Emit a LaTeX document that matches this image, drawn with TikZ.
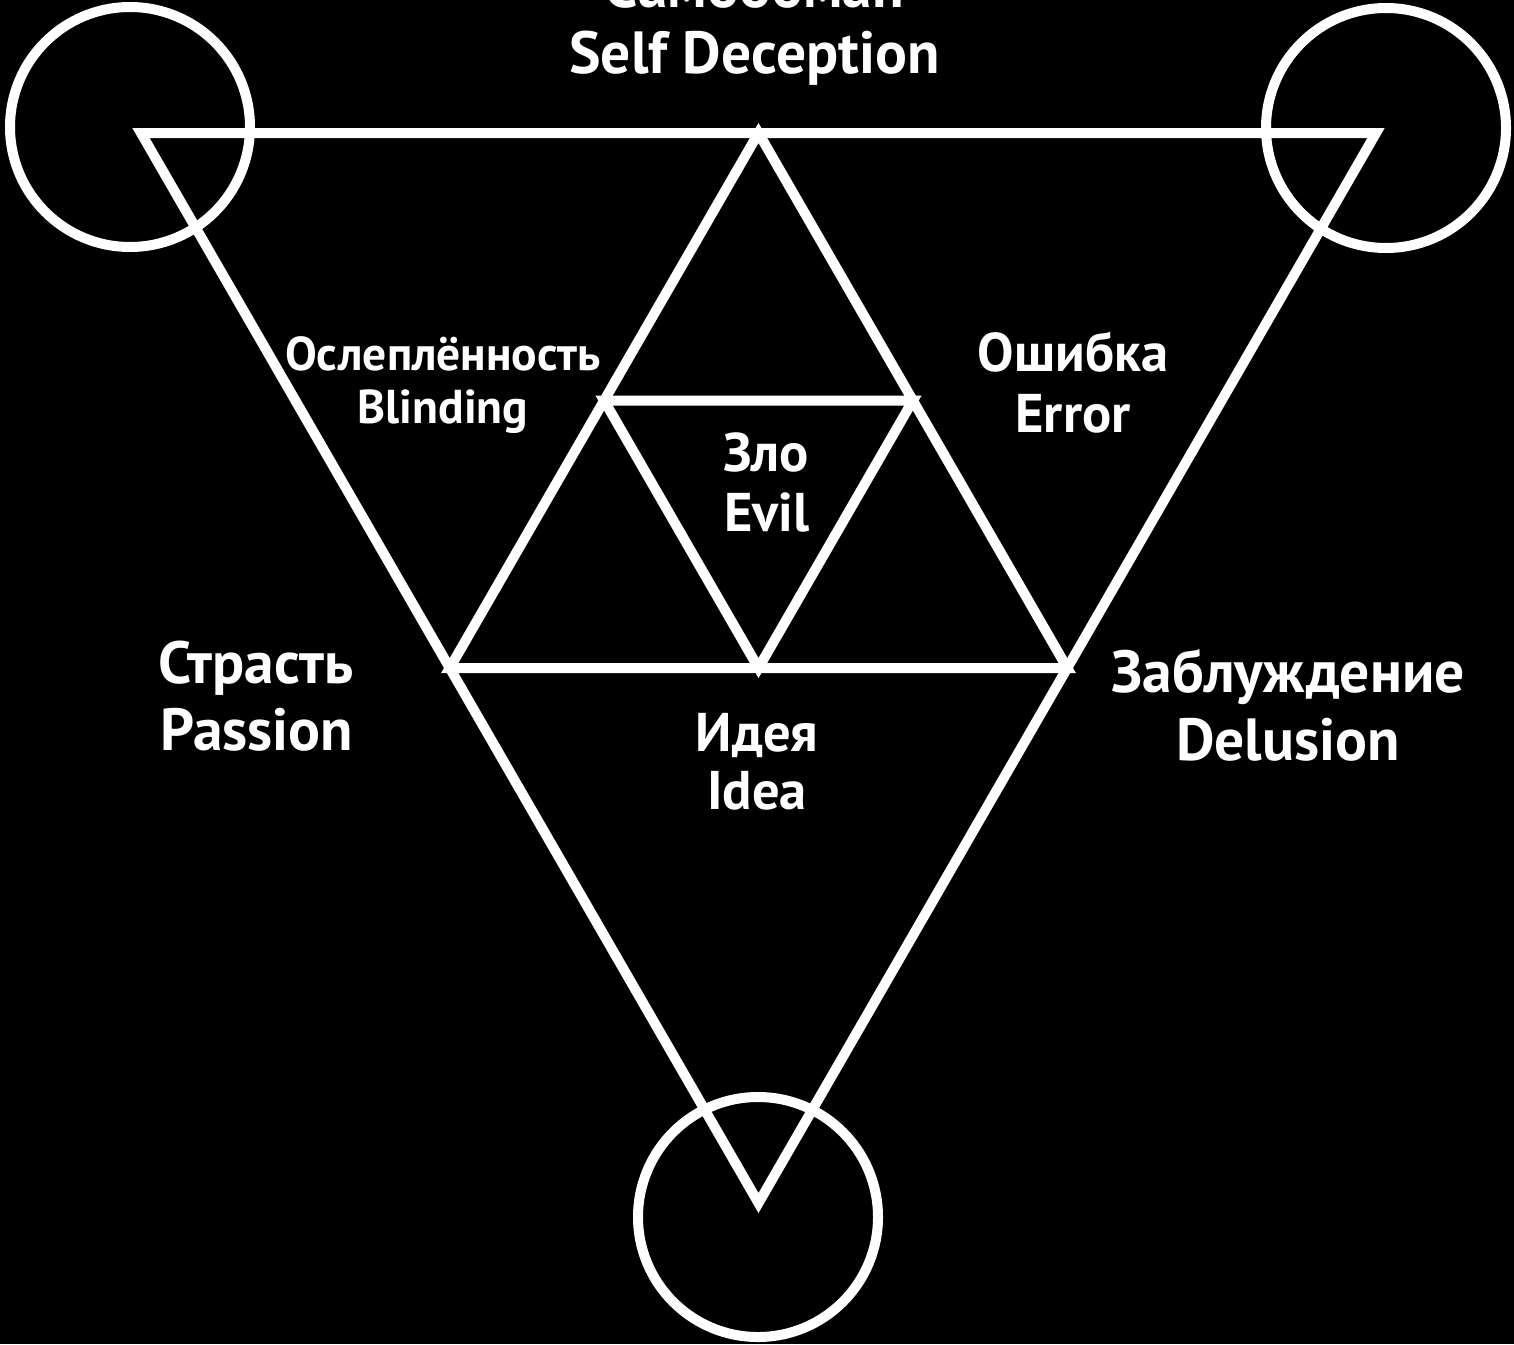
\documentclass[tikz,border=0pt]{standalone}
\usepackage{fontspec}
\newfontfamily\labfont{PT Sans}
\begin{document}
\begin{tikzpicture}[x=1pt,y=-1pt,
  wline/.style={draw=white,line width=10pt,line join=miter},
  wcirc/.style={draw=white,line width=10pt},
  big/.style={text=white,inner sep=0pt,anchor=base,font=\labfont\bfseries\fontsize{59.5}{71}\selectfont},
  mid/.style={text=white,inner sep=0pt,anchor=base,font=\labfont\bfseries\fontsize{54.5}{65}\selectfont},
  small/.style={text=white,inner sep=0pt,anchor=base,font=\labfont\bfseries\fontsize{47.5}{57}\selectfont}]
\useasboundingbox (0,0) rectangle (1514,1344);
\fill[black] (0,0) rectangle (1514,1344);
\clip (0,0) rectangle (1514,1344);
% vertices
\coordinate (A) at (141,133);
\coordinate (B) at (1376,133);
\coordinate (C) at (758.5,1203);
\coordinate (M) at (758.5,133);
\coordinate (L) at (449.75,668);
\coordinate (R) at (1067.25,668);
\coordinate (P) at (604.1,400.5);
\coordinate (Q) at (912.9,400.5);
\coordinate (D) at (758.5,668);
% circles
\node[wcirc,circle,minimum size=240pt,inner sep=0pt] (cA) at (130,127) {};
\node[wcirc,circle,minimum size=240pt,inner sep=0pt] (cB) at (1386,128) {};
\node[wcirc,circle,minimum size=240pt,inner sep=0pt] (cC) at (758,1217) {};
% triangles
\draw[wline] (A) -- (B) -- (C) -- cycle;
\draw[wline] (M) -- (L) -- (R) -- cycle;
\draw[wline] (P) -- (Q) -- (D) -- cycle;
% labels
\node[big] (t1) at (754.5,7) {Самообман};
\node[big] (t2) at (754.5,73) {Self Deception};
\node[small] (b1) at (443,370) {Ослеплённость};
\node[small] (b2) at (443,423) {Blinding};
\node[mid] (e1) at (1073,371) {Ошибка};
\node[mid] (e2) at (1073,432) {Error};
\node[mid] (z1) at (766,471) {Зло};
\node[mid] (z2) at (767,531) {Evil};
\node[big] (p1) at (256,683) {Страсть};
\node[big] (p2) at (257,750) {Passion};
\node[big] (d1) at (1288,692) {Заблуждение};
\node[big] (d2) at (1288,760) {Delusion};
\node[mid] (i1) at (757,751) {Идея};
\node[mid] (i2) at (757,809) {Idea};
\end{tikzpicture}
\end{document}
